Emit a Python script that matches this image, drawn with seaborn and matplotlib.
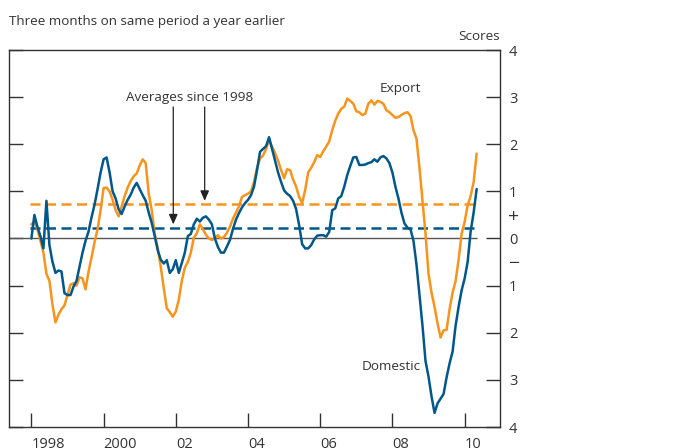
import numpy as np
import pandas as pd
import matplotlib
matplotlib.use('Agg')
import matplotlib.pyplot as plt
import seaborn as sns

# monthly scores, Jan 1998 onwards
start_year = 1998
domestic = [
    0.0, 0.5, 0.25, 0.05, -0.21, 0.8, -0.14, -0.49, -0.73, -0.68, -0.7, -1.16,
    -1.2, -1.2, -1.02, -0.9, -0.6, -0.3, -0.05, 0.15, 0.45, 0.72, 1.05, 1.4,
    1.68, 1.72, 1.4, 1.0, 0.85, 0.62, 0.52, 0.68, 0.82, 0.93, 1.08, 1.18,
    1.05, 0.92, 0.8, 0.55, 0.33, 0.05, -0.25, -0.45, -0.53, -0.46, -0.73, -0.65,
    -0.46, -0.73, -0.52, -0.3, 0.05, 0.1, 0.3, 0.42, 0.36, 0.44, 0.47, 0.4,
    0.3, 0.0, -0.18, -0.3, -0.3, -0.17, -0.03, 0.2, 0.4, 0.54, 0.66, 0.75,
    0.82, 0.92, 1.1, 1.45, 1.84, 1.9, 1.96, 2.15, 1.9, 1.65, 1.4, 1.2,
    1.02, 0.95, 0.9, 0.8, 0.62, 0.28, -0.12, -0.21, -0.21, -0.14, -0.02, 0.06,
    0.07, 0.07, 0.04, 0.14, 0.6, 0.64, 0.85, 0.9, 1.1, 1.35, 1.54, 1.72,
    1.73, 1.56, 1.56, 1.57, 1.6, 1.62, 1.68, 1.63, 1.72, 1.75, 1.7, 1.6,
    1.4, 1.1, 0.85, 0.55, 0.32, 0.23, 0.2, -0.05, -0.55, -1.2, -1.85, -2.6,
    -2.93, -3.35, -3.7, -3.5, -3.4, -3.3, -2.95, -2.65, -2.4, -1.85, -1.45, -1.1,
    -0.85, -0.5, 0.15, 0.55, 1.05,
]
export = [
    0.3, 0.35, 0.2, -0.05, -0.3, -0.75, -0.9, -1.4, -1.78, -1.62, -1.5, -1.42,
    -1.2, -0.98, -0.95, -1.0, -0.82, -0.85, -1.08, -0.7, -0.4, -0.08, 0.2, 0.6,
    1.07, 1.08, 1.0, 0.82, 0.6, 0.47, 0.68, 0.9, 1.08, 1.22, 1.32, 1.38,
    1.55, 1.68, 1.6, 0.95, 0.6, 0.1, -0.2, -0.6, -1.05, -1.48, -1.56, -1.66,
    -1.55, -1.3, -0.9, -0.62, -0.5, -0.3, 0.02, 0.11, 0.3, 0.2, 0.08, 0.0,
    -0.03, 0.0, 0.07, 0.0, 0.03, 0.12, 0.25, 0.42, 0.55, 0.68, 0.88, 0.92,
    0.95, 1.0, 1.2, 1.5, 1.7, 1.76, 1.9, 2.08, 1.95, 1.81, 1.65, 1.45,
    1.28, 1.47, 1.45, 1.25, 1.1, 0.88, 0.75, 1.03, 1.4, 1.5, 1.62, 1.77,
    1.73, 1.85, 1.95, 2.06, 2.3, 2.5, 2.65, 2.75, 2.8, 2.97, 2.92, 2.86,
    2.7, 2.68, 2.62, 2.65, 2.86, 2.93, 2.84, 2.92, 2.9, 2.86, 2.72, 2.68,
    2.62, 2.56, 2.58, 2.62, 2.66, 2.68, 2.6, 2.3, 2.12, 1.5, 0.8, 0.1,
    -0.75, -1.15, -1.45, -1.8, -2.1, -1.95, -1.94, -1.5, -1.15, -0.9, -0.45, 0.1,
    0.35, 0.7, 0.9, 1.2, 1.8,
]
avg_domestic = 0.22
avg_export = 0.73

year_ticks = [1998, 2000, 2002, 2004, 2006, 2008, 2010]
year_labels = ['1998', '2000', '02', '04', '06', '08', '10']
score_ticks = [-4, -3, -2, -1, 0, 1, 2, 3, 4]
score_labels = ['4', '3', '2', '1', '0', '1', '2', '3', '4']
sign_ticks = [-0.5, 0.5]
sign_labels = ['\u2212', '+']

orange = '#F7941D'
blue = '#00578A'
grey = '#333333'

n = len(domestic)
df = pd.DataFrame({'date': start_year + np.arange(n) / 12,
                   'Domestic': domestic, 'Export': export})
long_df = df.melt('date', var_name='series', value_name='score')

sns.set_theme(style='white')
plt.rcParams['font.family'] = ['Open Sans', 'DejaVu Sans']

fig = plt.figure(figsize=(6.76, 4.48), dpi=100)
ax = fig.add_axes([9 / 676, 21 / 448, 491 / 676, 377 / 448])

x0, x1 = 1997.38, 2010.98
ax.hlines(0, x0, 2010.35, color='#555555', lw=1.0, zorder=1)
ax.hlines(avg_export, 1997.97, 2010.28, color=orange, lw=1.8, linestyles=(0, (4, 2.2)), zorder=2)
ax.hlines(avg_domestic, 1997.97, 2010.28, color=blue, lw=1.8, linestyles=(0, (4, 2.2)), zorder=2)

sns.lineplot(data=long_df, x='date', y='score', hue='series',
             hue_order=['Export', 'Domestic'], palette=[orange, blue],
             lw=1.8, legend=False, ax=ax, zorder=3)

ax.set_xlim(x0, x1)
ax.set_ylim(-4, 4)
ax.set_xlabel('')
ax.set_ylabel('')

ax.set_xticks(year_ticks)
ax.set_xticklabels(year_labels, ha='left')
ax.tick_params(axis='x', which='major', direction='in', length=10.3, width=1,
               color=grey, top=False, bottom=True, pad=7, labelsize=10.5, labelcolor=grey)

ax.set_yticks(score_ticks)
ax.set_yticklabels(score_labels, ha='center')
ax.set_yticks(sign_ticks, minor=True)
ax.set_yticklabels(sign_labels, minor=True, ha='center')
ax.tick_params(axis='y', which='both', direction='in', length=10.3, width=1,
               color=grey, left=True, right=True, labelleft=False, labelright=True,
               pad=9.5, labelsize=10.5, labelcolor=grey)
ax.tick_params(axis='y', which='minor', length=0, labelsize=14)

for s in ax.spines.values():
    s.set_color(grey)
    s.set_linewidth(1.0)

# annotations
ax.text(2002.38, 3.0, 'Averages since 1998', ha='center', va='center', fontsize=9.7, color=grey)
arrow = dict(arrowstyle='-|>,head_length=0.5,head_width=0.22', color='#222222', lw=0.9,
             mutation_scale=12, shrinkA=0, shrinkB=0)
ax.annotate('', xy=(2001.93, 0.3), xytext=(2001.93, 2.79), arrowprops=arrow)
ax.annotate('', xy=(2002.8, 0.8), xytext=(2002.8, 2.79), arrowprops=arrow)
ax.text(2008.23, 3.19, 'Export', ha='center', va='center', fontsize=9.7, color=grey)
ax.text(2007.96, -2.71, 'Domestic', ha='center', va='center', fontsize=9.7, color=grey)

ax.text(1.0, 1.0 + 13 / 377, 'Scores', transform=ax.transAxes, ha='right',
        va='center', fontsize=9.7, color=grey)
fig.text(9 / 676, 1 - 22 / 448, 'Three months on same period a year earlier',
         ha='left', va='center', fontsize=9.7, color=grey)

fig.savefig('out.png', dpi=100)
